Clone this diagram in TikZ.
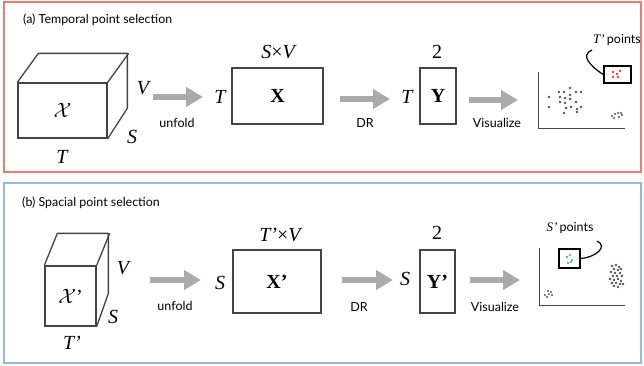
\documentclass[tikz,border=0pt]{standalone}
\usepackage{fontspec}
\setmainfont{Liberation Serif}
\newfontfamily\labfont{Lato}
\usetikzlibrary{arrows.meta}
\definecolor{panelred}{HTML}{EE7B6B}
\definecolor{panelblue}{HTML}{8FBCDF}
\definecolor{edgegray}{HTML}{444444}
\definecolor{flowgray}{HTML}{AAAAAA}
\definecolor{dotgray}{HTML}{555555}
\definecolor{selred}{HTML}{F0402A}
\definecolor{selblue}{HTML}{5AA8E0}
\begin{document}
\begin{tikzpicture}[x=1pt,y=-1pt,
  panel/.style={line width=2pt},
  mat/.style={draw=edgegray,line width=1.3pt,inner sep=0pt,font=\fontsize{20}{20}\selectfont},
  cubeedge/.style={draw=edgegray,line width=1.3pt,line join=round},
  sym/.style={inner sep=0pt,font=\fontsize{20}{20}\selectfont\itshape},
  flow/.style={draw=flowgray,line width=6.5pt,-{Triangle[length=17pt,width=19pt]}},
  steplabel/.style={inner sep=0pt,font=\labfont\fontsize{12.5}{14}\selectfont},
  title/.style={inner sep=0pt,anchor=west,font=\labfont\fontsize{12.4}{14}\selectfont},
  axis/.style={draw=edgegray,line width=1pt},
  selbox/.style={draw=black,line width=1.5pt,inner sep=0pt},
  lead/.style={draw=black,line width=1.2pt},
  dot/.style={fill=dotgray}
]
\useasboundingbox (0,0) rectangle (644,365);

% ---------- panel (a) ----------
\draw[panel,draw=panelred] (4,2) rectangle (641,172);
\node[title] (ta) at (23,20) {(a) Temporal point selection};

% tensor cube
\node[mat,minimum width=89pt,minimum height=55pt] (cubeA) at (62.5,110.5) {$\mathcal{X}$};
\draw[cubeedge] (cubeA.north west) -- ++(21,-29) -- ++(89,0) -- ++(0,55) -- (cubeA.south east);
\draw[cubeedge] (cubeA.north east) -- ++(21,-29);
\node[sym] (cAV) at (143,88) {V};
\node[sym] (cAS) at (132,137) {S};
\node[sym] (cAT) at (62,157) {T};

\coordinate (fa1s) at (153,97);
\coordinate (fa1e) at (203,97);
\draw[flow] (fa1s) -- (fa1e);
\node[steplabel] (ua) at (177,123) {unfold};

\node[sym] (xaT) at (220,97) {T};
\node[mat,minimum width=91pt,minimum height=56pt] (XA) at (277.5,96) {\textbf{X}};
\node[sym] (xaSV) at (278,52) {S\/\upshape{}×\itshape{}V};

\coordinate (fa2s) at (340,99);
\coordinate (fa2e) at (390,99);
\draw[flow] (fa2s) -- (fa2e);
\node[steplabel] (dra) at (365,123) {DR};

\node[sym] (yaT) at (407,97) {T};
\node[mat,minimum width=36pt,minimum height=56pt] (YA) at (438,96) {\textbf{Y}};
\node[inner sep=0pt,font=\fontsize{20}{20}\selectfont] (ya2) at (437,52) {2};

\coordinate (fa3s) at (469,100);
\coordinate (fa3e) at (518,100);
\draw[flow] (fa3s) -- (fa3e);
\node[steplabel] (va) at (497,123) {Visualize};

% scatter plot
\coordinate (axA) at (538,72);
\coordinate (oA) at (538,128);
\coordinate (axAx) at (625,128);
\draw[axis] (axA) -- (oA) -- (axAx);
\foreach \p in {(549,97),(549,107),(559,92),(564,92),(570,88),(576,92),(581,92),
  (560,97),(565,98),(570,95),(570,99),(576,102),(560,102),(565,103),
  (566,108),(571,107),(577,109),(577,112),(581,107),(564,113)}
  \fill[dot] \p circle (1.3);
\foreach \p in {(612,116),(615,114),(618,113),(621,113),(614,118),(619,117),(622,115)}
  \fill[dot] \p circle (1.2);
\node[selbox,minimum width=27pt,minimum height=17pt] (selA) at (617.5,74.5) {};
\foreach \p in {(613,72),(613,77),(617,74),(620,71),(618,77)}
  \fill[selred] \p circle (1.3);
\node[inner sep=0pt] (ptA) at (617,40) {\fontsize{13}{13}\selectfont\itshape T’\,\labfont\upshape\fontsize{12.5}{14}\selectfont points};
\draw[lead] (selA.west) .. controls (590,66) and (580,55) .. (592,50);

% ---------- panel (b) ----------
\draw[panel,draw=panelblue] (4,183) rectangle (641,363);
\node[title] (tb) at (22,203) {(b) Spacial point selection};

\node[mat,minimum width=51pt,minimum height=60pt] (cubeB) at (70.5,296) {$\mathcal{X}$’};
\draw[cubeedge] (cubeB.north west) -- ++(13,-32) -- ++(51,0) -- ++(0,60) -- (cubeB.south east);
\draw[cubeedge] (cubeB.north east) -- ++(13,-32);
\node[sym] (cBV) at (123,268) {V};
\node[sym] (cBS) at (113,317) {S};
\node[sym] (cBT) at (72,343) {T’};

\coordinate (fb1s) at (150,280);
\coordinate (fb1e) at (201,280);
\draw[flow] (fb1s) -- (fb1e);
\node[steplabel] (ub) at (175,306) {unfold};

\node[sym] (xbS) at (220,283) {S};
\node[mat,minimum width=88pt,minimum height=63pt] (XB) at (277,281.5) {\textbf{X’}};
\node[sym] (xbTV) at (280,235) {T’\upshape{}×\itshape{}V};

\coordinate (fb2s) at (342,280);
\coordinate (fb2e) at (393,280);
\draw[flow] (fb2s) -- (fb2e);
\node[steplabel] (drb) at (359,307) {DR};

\node[sym] (ybS) at (405,279) {S};
\node[mat,minimum width=35pt,minimum height=63pt] (YB) at (437.5,281.5) {\textbf{Y’}};
\node[inner sep=0pt,font=\fontsize{20}{20}\selectfont] (yb2) at (437,233) {2};

\coordinate (fb3s) at (470,280);
\coordinate (fb3e) at (520,280);
\draw[flow] (fb3s) -- (fb3e);
\node[steplabel] (vb) at (495,307) {Visualize};

\coordinate (axB) at (539,248);
\coordinate (oB) at (539,305);
\coordinate (axBx) at (625,305);
\draw[axis] (axB) -- (oB) -- (axBx);
\foreach \p in {(547,297),(549,294),(551,292),(548,291),(552,295),(545,295)}
  \fill[dot] \p circle (1.2);
\foreach \p in {(612,266),(616,265),(619,267),(614,269),(618,270),(621,269),(611,272),
  (615,273),(620,273),(613,276),(617,276),(622,276),(610,279),(614,280),(618,279),
  (621,281),(612,283),(616,283),(620,284),(614,286),(618,287),(623,284)}
  \fill[dot] \p circle (1.3);
\node[selbox,minimum width=21pt,minimum height=19pt] (selB) at (569.5,258.5) {};
\foreach \p in {(567,257),(570,255),(572,260),(568,263),(571,262)}
  \fill[selblue] \p circle (1.3);
\node[inner sep=0pt] (ptB) at (570,228) {\fontsize{13}{13}\selectfont\itshape S’\,\labfont\upshape\fontsize{12.5}{14}\selectfont points};
\draw[lead] (selB.east) .. controls (597,257) and (608,246) .. (597,241);
\end{tikzpicture}
\end{document}
